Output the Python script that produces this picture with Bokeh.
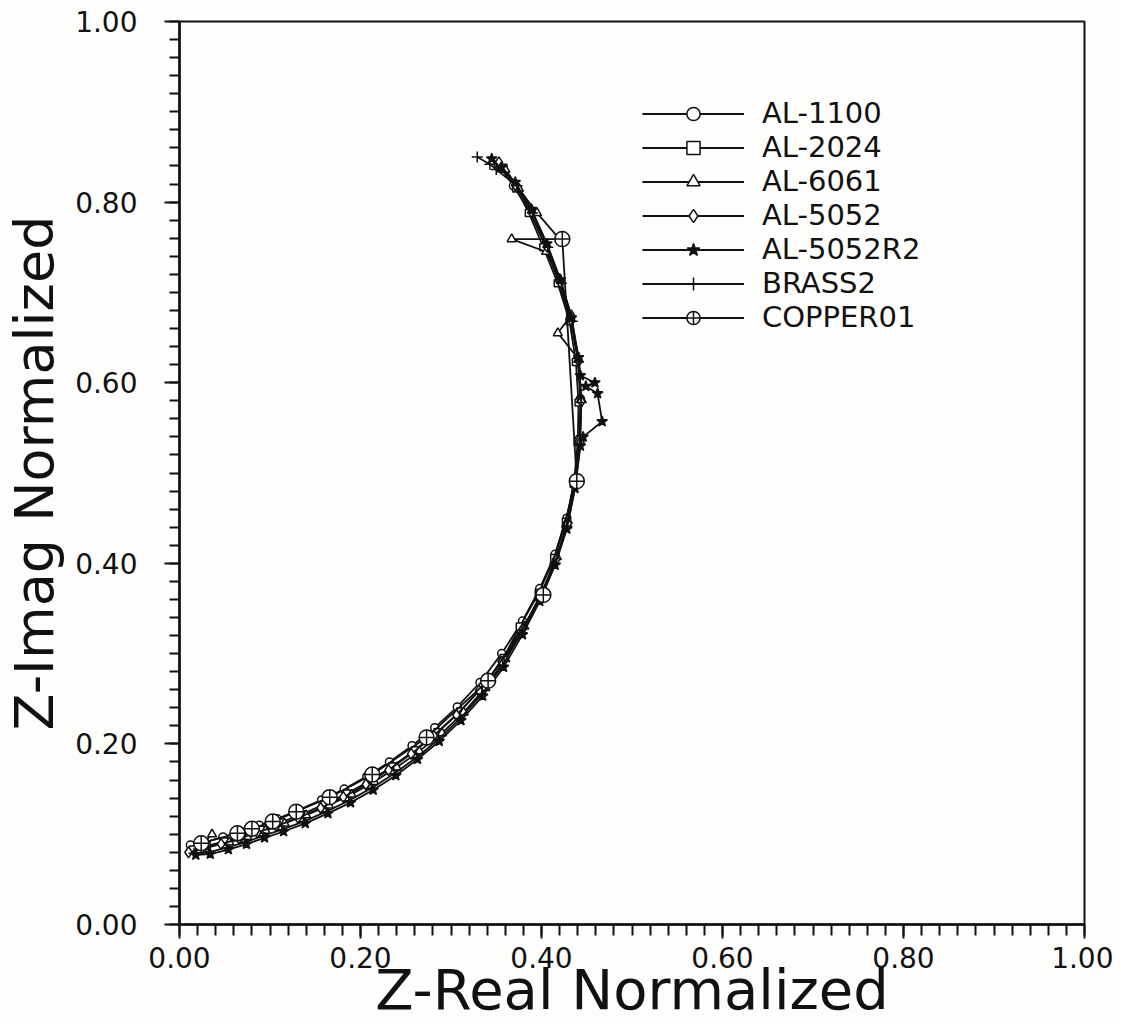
from bokeh.plotting import figure
from bokeh.models import Range1d, SingleIntervalTicker, NumeralTickFormatter, Legend, LegendItem
from bokeh.embed import file_html
from bokeh.resources import INLINE

# ---------------- data ----------------
al1100_x = [0.012,0.028,0.048,0.068,0.088,0.108,0.132,0.157,0.182,0.207,0.232,0.257,0.282,0.307,0.332,0.356,0.379,0.398,0.415,0.428,0.437,0.442,0.443,0.440,0.432,0.419,0.404,0.387,0.369,0.352]
al1100_y = [0.088,0.091,0.097,0.103,0.110,0.117,0.127,0.138,0.150,0.164,0.180,0.198,0.218,0.241,0.268,0.300,0.336,0.372,0.410,0.450,0.494,0.538,0.582,0.626,0.670,0.712,0.752,0.789,0.818,0.842]

al2024_x = [0.015,0.030,0.050,0.070,0.090,0.112,0.135,0.160,0.185,0.210,0.235,0.260,0.285,0.310,0.335,0.358,0.376,0.397,0.414,0.427,0.436,0.440,0.441,0.438,0.431,0.418,0.402,0.386,0.372,0.358]
al2024_y = [0.083,0.087,0.092,0.098,0.105,0.113,0.122,0.133,0.145,0.159,0.175,0.193,0.213,0.236,0.263,0.295,0.330,0.367,0.406,0.446,0.490,0.534,0.578,0.623,0.668,0.710,0.750,0.788,0.815,0.838]

al6061_x = [0.036,0.022,0.055,0.075,0.095,0.116,0.140,0.165,0.190,0.215,0.240,0.265,0.290,0.314,0.338,0.360,0.381,0.400,0.417,0.429,0.437,0.442,0.444,0.441,0.418,0.433,0.420,0.405,0.367,0.420,0.395,0.375,0.360]
al6061_y = [0.100,0.085,0.091,0.097,0.104,0.112,0.121,0.132,0.144,0.158,0.174,0.192,0.212,0.235,0.262,0.294,0.330,0.367,0.407,0.447,0.492,0.537,0.582,0.626,0.655,0.675,0.715,0.745,0.759,0.759,0.788,0.815,0.836]

al5052_x = [0.010,0.026,0.046,0.066,0.086,0.107,0.131,0.156,0.181,0.206,0.231,0.256,0.281,0.306,0.331,0.356,0.379,0.399,0.416,0.429,0.438,0.443,0.444,0.441,0.433,0.421,0.406,0.389,0.371,0.353]
al5052_y = [0.080,0.084,0.089,0.095,0.102,0.109,0.118,0.129,0.141,0.155,0.171,0.189,0.209,0.232,0.259,0.291,0.327,0.364,0.404,0.444,0.489,0.534,0.579,0.624,0.669,0.711,0.751,0.789,0.819,0.844]

al5052r2_x = [0.018,0.034,0.054,0.074,0.094,0.115,0.139,0.164,0.189,0.214,0.239,0.263,0.287,0.311,0.335,0.358,0.379,0.398,0.415,0.428,0.437,0.443,0.446,0.467,0.462,0.449,0.459,0.443,0.441,0.433,0.421,0.406,0.389,0.371,0.355,0.345]
al5052r2_y = [0.077,0.078,0.083,0.089,0.096,0.103,0.112,0.123,0.135,0.149,0.165,0.183,0.203,0.226,0.253,0.285,0.321,0.358,0.398,0.438,0.483,0.530,0.540,0.557,0.588,0.596,0.600,0.608,0.628,0.672,0.714,0.754,0.792,0.822,0.838,0.848]

brass2_x = [0.016,0.032,0.052,0.072,0.092,0.113,0.137,0.162,0.187,0.212,0.237,0.262,0.286,0.310,0.334,0.357,0.378,0.398,0.415,0.428,0.437,0.442,0.444,0.441,0.434,0.422,0.407,0.390,0.373,0.350,0.343,0.329]
brass2_y = [0.079,0.080,0.085,0.091,0.098,0.105,0.114,0.125,0.137,0.151,0.167,0.185,0.205,0.228,0.255,0.287,0.323,0.360,0.400,0.441,0.486,0.532,0.578,0.623,0.668,0.710,0.750,0.788,0.818,0.836,0.842,0.850]

copper01_x = [0.024,0.064,0.080,0.103,0.129,0.166,0.213,0.273,0.341,0.402,0.439,0.423]
copper01_y = [0.090,0.101,0.106,0.114,0.125,0.141,0.166,0.207,0.270,0.365,0.491,0.759]

series_names = ["AL-1100", "AL-2024", "AL-6061", "AL-5052", "AL-5052R2", "BRASS2", "COPPER01"]
x_title = "Z-Real Normalized"
y_title = "Z-Imag Normalized"
tick_interval = 0.2

# ---------------- figure ----------------
FONT = "DejaVu Sans"
INK = "#111111"
BG = "#fdfdfb"

p = figure(width=1113, height=1024, x_range=Range1d(0, 1), y_range=Range1d(0, 1),
           output_backend="svg", toolbar_location=None,
           min_border_left=176, min_border_right=29, min_border_top=21, min_border_bottom=100)
p.background_fill_color = BG
p.border_fill_color = BG
p.xgrid.visible = False
p.ygrid.visible = False
p.outline_line_color = INK
p.outline_line_width = 2

for ax in (p.xaxis[0], p.yaxis[0]):
    ax.ticker = SingleIntervalTicker(interval=tick_interval, num_minor_ticks=10)
    ax.formatter = NumeralTickFormatter(format="0.00")
    ax.axis_line_color = INK
    ax.axis_line_width = 2.5
    ax.major_tick_line_color = INK
    ax.minor_tick_line_color = INK
    ax.major_tick_line_width = 2
    ax.minor_tick_line_width = 2
    ax.major_tick_in = 0
    ax.minor_tick_in = 0
    ax.major_label_text_font = FONT
    ax.major_label_text_font_size = "28px"
    ax.major_label_text_color = INK
    ax.axis_label_text_font = FONT
    ax.axis_label_text_font_style = "normal"
    ax.axis_label_text_color = INK

xa = p.xaxis[0]
xa.axis_label = x_title
xa.axis_label_text_font_size = "56px"
xa.axis_label_standoff = -14
xa.major_tick_out = 14
xa.minor_tick_out = 11
xa.major_label_standoff = 8

ya = p.yaxis[0]
ya.axis_label = y_title
ya.axis_label_text_font_size = "54px"
ya.axis_label_standoff = 6
ya.major_tick_out = 15
ya.minor_tick_out = 10
ya.major_label_standoff = 27

series = [
    (al1100_x, al1100_y, dict(marker="circle", size=8, fill_color="white")),
    (al2024_x, al2024_y, dict(marker="square", size=7, fill_color="white")),
    (al6061_x, al6061_y, dict(marker="triangle", size=9, fill_color="white")),
    (al5052_x, al5052_y, dict(marker="diamond", size=11, fill_color="white")),
    (al5052r2_x, al5052r2_y, dict(marker="star", size=11, fill_color=INK)),
    (brass2_x, brass2_y, dict(marker="cross", size=11, fill_color=None)),
    (copper01_x, copper01_y, dict(marker="circle_cross", size=15, fill_color="white")),
]

items = []
for name, (xs, ys, st) in zip(series_names, series):
    lr = p.line(xs, ys, line_color=INK, line_width=1.8)
    sr = p.scatter(xs, ys, line_color=INK, line_width=1.5, **st)
    items.append(LegendItem(label=name, renderers=[lr, sr]))

legend = Legend(items=items, location=(463, 590),
                glyph_width=102, glyph_height=33, label_height=33, spacing=0,
                padding=0, margin=0, label_standoff=18,
                label_text_font=FONT, label_text_font_size="29px", label_text_color=INK,
                border_line_alpha=0, background_fill_alpha=0)
p.add_layout(legend)

open("out.html", "w").write(file_html(p, INLINE))
